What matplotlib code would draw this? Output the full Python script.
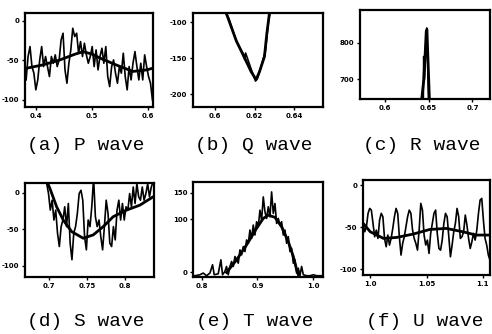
import numpy as np
import matplotlib
matplotlib.use('Agg')
import matplotlib.pyplot as plt

# (a) P wave
p_t = np.linspace(0.382, 0.608, 66)
p_raw = [-74.7, -45.1, -32.5, -57.8, -66.2, -87.3, -74.7, -49.4, -32.5, -57.8,
         -45.1, -57.8, -70.5, -45.1, -53.6, -43.0, -57.8, -49.4, -24.1, -15.6,
         -62.0, -78.9, -53.6, -36.7, -9.3, -19.8, -15.6, -40.9, -26.2, -45.1,
         -28.3, -43.0, -53.6, -45.1, -32.5, -57.8, -36.7, -62.0, -45.1, -34.6,
         -53.6, -32.5, -70.5, -83.1, -57.8, -49.4, -66.2, -78.9, -57.8, -66.2,
         -40.9, -70.5, -87.3, -57.8, -74.7, -53.6, -38.8, -57.8, -74.7, -53.6,
         -74.7, -43.0, -57.8, -70.5, -78.9, -100.0]
p_fit_t = [0.382, 0.41, 0.44, 0.47, 0.484, 0.5, 0.514, 0.544, 0.573, 0.598, 0.608]
p_fit = [-60, -56, -50, -42, -39, -42, -47, -56, -64, -62, -60]

# (b) Q wave
q_t = [0.604, 0.607, 0.611, 0.6145, 0.615, 0.6155, 0.6185, 0.6205, 0.6215, 0.623, 0.6255, 0.627, 0.6285]
q_raw = [-80, -95, -128, -145, -152, -143, -167, -182, -178, -165, -140, -100, -75]
q_fit_t = [0.603, 0.6058, 0.6108, 0.615, 0.6183, 0.6208, 0.6225, 0.625, 0.6262, 0.6275, 0.629]
q_fit = [-75, -88, -126, -150, -169, -180, -169, -148, -116, -88, -70]

# (c) R wave
r_t = [0.6438, 0.6443, 0.6452, 0.6464, 0.6472, 0.6478, 0.6484, 0.6492, 0.6502]
r_raw = [620, 762, 700, 770, 825, 840, 790, 710, 600]
r_fit_t = [0.640, 0.6445, 0.646, 0.6472, 0.648, 0.6488, 0.650, 0.6515]
r_fit = [600, 700, 770, 830, 835, 780, 700, 600]

# (d) S wave
s_t = np.linspace(0.6966, 0.8368, 60)
s_raw = [12.2, -1.4, -23.9, -10.4, -37.4, -23.9, -55.4, -73.5, -46.4, -37.4,
         -19.4, -46.4, -14.9, -68.9, -91.5, -55.4, -46.4, -28.4, -1.4, 3.1,
         -10.4, -60, -78, -37.4, -46.4, -19.4, 20, -32.9, -46.4, -37.4,
         -60, -78, -46.4, -10.4, -28.4, -68.9, -73.5, -46.4, -64.5, -23.9,
         -10.4, -37.4, -14.9, -37.4, -19.4, -23.9, -1.4, -19.4, 7.6, -14.9,
         12.2, -5.9, -10.4, 7.6, -10.4, -1.4, 12.2, -5.9, 7.6, 14.3]
s_fit_t = [0.697, 0.7009, 0.7097, 0.7184, 0.7295, 0.7447, 0.7579, 0.7711, 0.7842, 0.8018, 0.8193, 0.8368]
s_fit = [15, 5.4, -19.4, -37.4, -53.2, -62.2, -57.7, -46.4, -32.9, -23.9, -17.2, -5.9]

# (e) T wave
t_t = [0.7874, 0.7964, 0.8024, 0.8084, 0.8144, 0.8192, 0.8222, 0.8294, 0.8342, 0.8372,
       0.8414, 0.8444, 0.8474, 0.8505, 0.8535, 0.8565, 0.8595, 0.8625, 0.8655, 0.8685,
       0.8715, 0.8745, 0.8775, 0.8805, 0.8835, 0.8865, 0.8895, 0.8925, 0.8955, 0.8985,
       0.9015, 0.9045, 0.9075, 0.9105, 0.9135, 0.9165, 0.9195, 0.9225, 0.9255, 0.9285,
       0.9315, 0.9345, 0.9375, 0.9405, 0.9435, 0.9465, 0.9495, 0.9525, 0.9555, 0.9585,
       0.9615, 0.9645, 0.9675, 0.9705, 0.9735, 0.9765, 0.9795, 0.9826, 0.9886, 0.9946,
       1.0006, 1.0066, 1.0156]
t_raw = [-6.2, -4.4, -1.2, -6.2, -1.2, 14.4, -4.4, -2.5, 23.8, -4.4,
         1.9, 11.3, -4.4, 11.3, 20.6, 11.3, 30, 23.8, 17.5, 42.5,
         33.1, 48.8, 39.4, 61.3, 55, 80, 64.4, 89.4, 70.6, 95.6,
         86.3, 117.5, 98.8, 142.5, 114.4, 101.9, 123.8, 105, 151.9, 111.3,
         130, 92.5, 101.9, 89.4, 95.6, 70.6, 80, 55, 67.5, 39.4,
         45.6, 17.5, 23.8, -1.2, 8.1, -6.2, 11.3, -4.4, -6.2, -6.2,
         -4.4, -6.2, -6.2]
t_fit_t = [0.8445, 0.8625, 0.8805, 0.8985, 0.9105, 0.9195, 0.9315, 0.9436, 0.9555, 0.9646, 0.9706, 0.9736]
t_fit = [0, 23.8, 52, 83.3, 102, 108, 104, 86, 58, 30, 5, -4]

# (f) U wave
u_t = np.linspace(0.9936, 1.1065, 78)
u_raw = [-45.6, -55.6, -49.6, -33.7, -27.8, -29.8, -45.6, -61.5, -53.6, -63.5,
         -41.7, -33.7, -37.7, -63.5, -73.4, -59.5, -71.4, -63.5, -51.6, -37.7,
         -27.8, -33.7, -61.5, -83.3, -69.4, -61.5, -49.6, -37.7, -29.8, -33.7,
         -53.6, -63.5, -69.4, -77.4, -53.6, -21.8, -29.8, -59.5, -71.4, -65.5,
         -81.3, -57.5, -45.6, -33.7, -29.8, -57.5, -75.4, -77.4, -65.5, -45.6,
         -33.7, -37.7, -61.5, -85.3, -71.4, -55.6, -45.6, -27.8, -37.7, -63.5,
         -61.5, -55.6, -35.7, -47.6, -63.5, -75.4, -67.5, -57.5, -65.5, -53.6,
         -33.7, -17.9, -15.9, -41.7, -63.5, -71.4, -83.3, -89.3]
u_fit_t = [0.9936, 1.0, 1.0118, 1.0235, 1.0382, 1.053, 1.0677, 1.0824, 1.0941, 1.1065]
u_fit = [-45.6, -55.6, -63.5, -62.3, -58.3, -52.8, -51.6, -55.6, -59.5, -59.5]

captions = ['(a) P wave', '(b) Q wave', '(c) R wave',
            '(d) S wave', '(e) T wave', '(f) U wave']

panels = [
    # raw t, raw y, fit t, fit y, xlim, ylim, xticks, xlabels, yticks, ylabels, box px (l, r, top, bottom)
    (p_t, p_raw, p_fit_t, p_fit, (0.380, 0.609), (-109, 10),
     [0.4, 0.5, 0.6], ['0.4', '0.5', '0.6'], [0, -50, -100], ['0', '-50', '-100'], (25, 153, 13, 107)),
    (q_t, q_raw, q_fit_t, q_fit, (0.589, 0.6545), (-218, -87.5),
     [0.6, 0.62, 0.64], ['0.6', '0.62', '0.64'], [-100, -150, -200], ['-100', '-150', '-200'], (193, 323, 13, 107)),
    (r_t, r_raw, r_fit_t, r_fit, (0.5716, 0.72), (646, 889),
     [0.6, 0.65, 0.7], ['0.6', '0.65', '0.7'], [700, 800], ['700', '800'], (360, 490, 10, 99)),
    (s_t, s_raw, s_fit_t, s_fit, (0.668, 0.838), (-115, 13),
     [0.7, 0.75, 0.8], ['0.7', '0.75', '0.8'], [0, -50, -100], ['0', '-50', '-100'], (25, 154, 183, 277)),
    (t_t, t_raw, t_fit_t, t_fit, (0.784, 1.018), (-8.6, 170.6),
     [0.8, 0.9, 1.0], ['0.8', '0.9', '1.0'], [0, 100, 150], ['0', '100', '150'], (193, 323, 182, 277)),
    (u_t, u_raw, u_fit_t, u_fit, (0.9935, 1.1065), (-107, 6),
     [1.0, 1.05, 1.1], ['1.0', '1.05', '1.1'], [0, -50, -100], ['0', '-50', '-100'], (363, 490, 180, 275)),
]

W, H = 492, 334
fig = plt.figure(figsize=(W / 100, H / 100), dpi=100)

for i, (rt, ry, ft, fy, xl, yl, xt, xtl, yt, ytl, box) in enumerate(panels):
    l, r, top, bot = box
    ax = fig.add_axes([l / W, 1 - bot / H, (r - l) / W, (bot - top) / H])
    ax.plot(rt, ry, color='black', lw=1.2)
    ax.plot(ft, fy, color='black', lw=2.0)
    ax.set_xlim(*xl)
    ax.set_ylim(*yl)
    ax.set_xticks(xt)
    ax.set_xticklabels(xtl)
    ax.set_yticks(yt)
    ax.set_yticklabels(ytl)
    ax.tick_params(direction='out', length=2.5, width=1, pad=1.5, labelsize=5)
    for lab in ax.get_xticklabels() + ax.get_yticklabels():
        lab.set_fontweight('bold')
    for sp in ax.spines.values():
        sp.set_linewidth(1.6)

caption_pos = [(86, 146), (254, 146), (422, 146), (86, 322), (255, 322), (425, 322)]
for cap, (cx, cy) in zip(captions, caption_pos):
    fig.text(cx / W, 1 - cy / H, cap, ha='center', va='center',
             fontsize=14, family='Liberation Mono')

fig.savefig('out.png', dpi=100)
